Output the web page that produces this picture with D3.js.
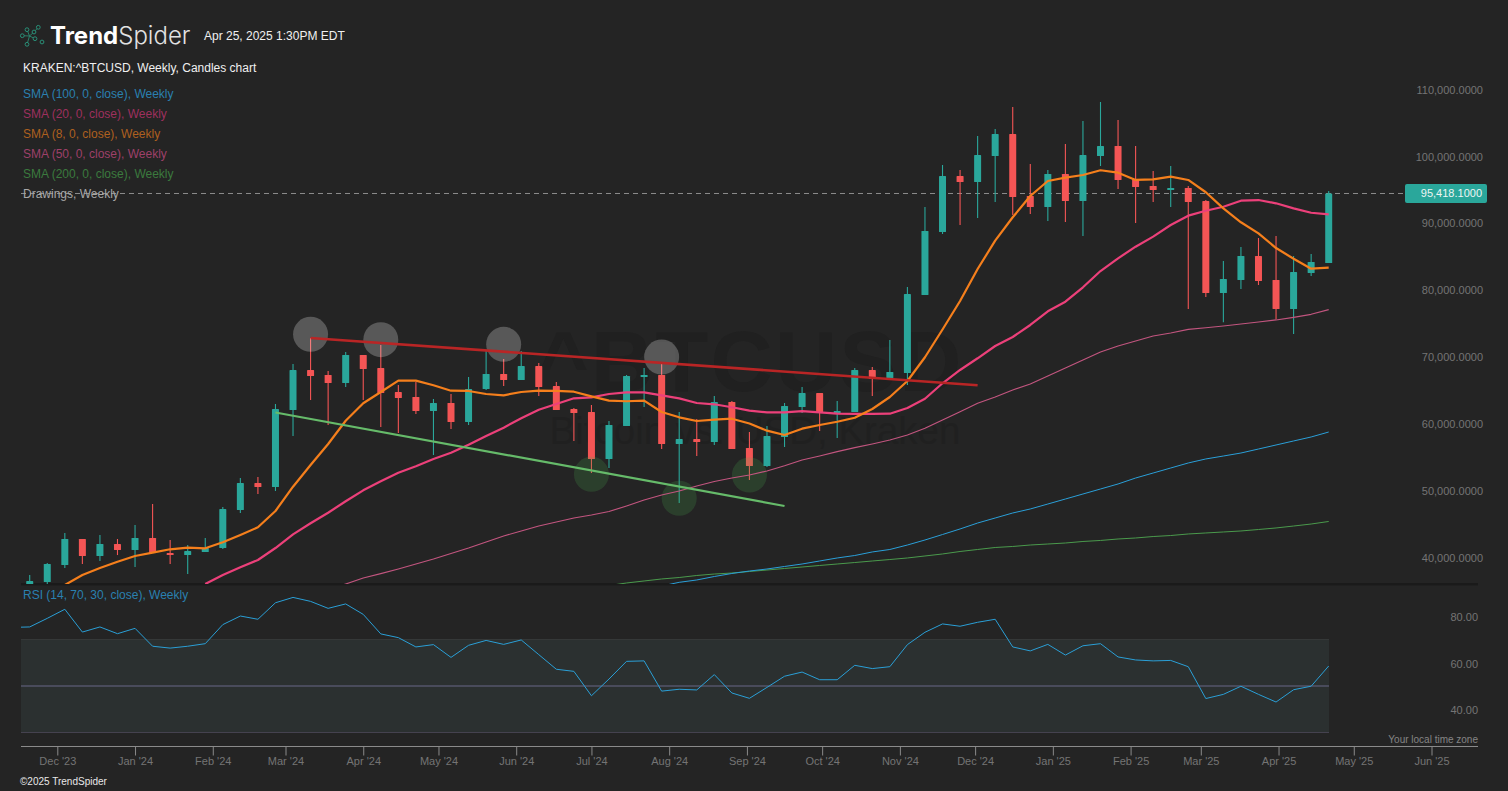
<!DOCTYPE html>
<html>
<head>
<meta charset="utf-8">
<script src="https://cdn.jsdelivr.net/npm/d3@7"></script>
<style>
  html, body { margin: 0; padding: 0; background: #242424; overflow: hidden; }
  svg { display: block; font-family: "Liberation Sans", Arial, sans-serif; }
</style>
</head>
<body>
<svg id="chart" width="1508" height="791"></svg>
<script>
//Weekly bars, first one on the Monday below
var firstWeek = new Date(Date.UTC(2023, 10, 20));

var opens = [36710,37310,39850,43740,41190,42990,42090,43890,41640,41340,41790,42390,48070,52110,51510,63030,69010,68270,67070,71260,69310,65720,64980,62880,64080,61240,66170,68420,67520,69610,66620,63180,62730,55700,60640,67970,68270,57950,58690,58250,64230,57350,54660,58990,63480,65570,62580,62730,69010,67820,68570,80230,89660,98030,97130,101020,104310,95040,93390,98330,94290,101020,102520,97580,96540,95940,96240,94290,80530,82480,86070,82480,78140,83520,85020];
var highs = [38350,40150,44630,43740,44340,43740,45830,48970,43590,42840,43890,48520,52860,53010,63930,69910,73800,68870,71710,71260,72750,66770,67220,64680,65430,67970,72010,70660,71860,70060,67220,63330,63780,61390,68270,69310,70060,62730,61690,65130,64380,59740,60640,64080,66470,65570,64380,69310,69460,73500,81430,93390,99680,98930,104010,105060,108350,99830,98930,102820,106260,109100,106410,102520,98780,99530,96540,94440,85320,87410,88760,89060,86070,86370,95790];
var lows = [36110,37010,39400,40000,40450,41340,39550,41640,40000,38500,41790,42240,47630,50470,50920,59140,64530,60790,66470,64530,60490,59590,62430,56300,60190,60790,66020,66620,67520,65130,63030,58390,53610,54360,60640,63480,57200,49120,56150,57800,57200,52560,54510,57500,62580,59890,58840,62730,65130,67820,66770,80230,89360,90700,91750,94140,92200,92350,91300,91150,89060,99530,96090,91000,94140,93390,78140,79930,76170,81130,81730,76620,74410,83070,85020];
var closes = [37450,40000,43740,41190,42990,42090,43890,41640,41340,41940,42390,48220,52110,51510,63180,69010,68120,67070,71260,69160,65570,64830,62880,64080,61240,66170,68420,67520,69610,66470,63030,62580,55700,60790,68120,68270,57950,58690,58250,64230,57200,54660,59140,63630,65570,62730,62880,69010,67670,68720,80380,89810,98030,97130,101170,104310,94890,93390,98330,94290,101170,102520,97430,96390,95940,96240,94140,80530,82630,86070,82330,78140,83670,85170,95418];

//Moving averages, each one starts at the bar index named next to it
var sma8Start = 2;
var sma8 = [36860,38360,39400,40340,41200,41690,42200,42440,42350,43250,44340,45490,47930,51560,54810,57950,61430,64040,65730,67420,67420,66730,65920,65880,65430,65230,65730,65920,65880,65770,65080,64430,64340,64430,62740,61940,61390,61580,61730,61020,59940,59300,60240,60790,61280,61880,63180,64980,67370,70920,75070,79340,84120,88360,91860,95040,97290,97780,98180,98890,98530,97440,97540,97930,97440,95600,93200,91110,89460,87260,85660,84170,84320];
var sma20Start = 10;
var sma20 = [37010,38360,39510,40600,42390,44440,46090,47670,49380,51020,52380,53660,54610,55710,56650,57840,59150,60390,61790,63080,63930,64780,64930,65430,65680,65680,65230,64780,64080,63890,63440,62930,62690,62690,62880,62690,62480,62440,62440,62480,63330,64720,67030,69020,70770,72610,73950,75750,77800,79230,81390,83820,85720,87460,88960,90700,92100,92840,93440,94340,94440,93950,93200,92540,92300];
var sma50Start = 17;
var sma50 = [36110,37010,37910,38550,39250,40000,40750,41570,42390,43290,44190,44940,45680,46280,46880,47330,47850,48680,49570,50320,50920,51670,52340,52860,53310,53910,54700,55560,56150,56800,57400,57950,58550,59300,60300,61540,62780,64040,64980,66030,66920,68120,69320,70510,71710,72610,73350,74100,74550,75090,75340,75600,75900,76200,76500,76900,77350,78040];
var sma100Start = 36;
var sma100 = [36710,37260,37610,38130,38580,38950,39250,39630,40000,40450,40900,41270,41800,42170,42840,43590,44410,45240,46130,46880,47630,48230,48970,49720,50470,51220,51970,52860,53610,54360,55110,55710,56150,56600,57200,57800,58400,59000,59740];
var sma200Start = 33;
var sma200 = [36780,37160,37460,37760,37980,38280,38500,38650,38880,39100,39330,39550,39780,40000,40220,40450,40670,40900,41200,41500,41870,42170,42470,42620,42840,42990,43140,43370,43520,43740,43890,44110,44260,44490,44640,44790,44940,45160,45390,45680,45980,46360];

//RSI has one extra week in front, it runs in from the left edge
var rsiValues = [75.2,75.4,79.1,83.0,73.2,75.4,72.5,74.8,67.1,66.3,67.1,68.2,76.4,80.1,78.7,85.8,88.1,86.4,83.4,85.3,80.8,72.4,70.8,66.8,67.8,62.3,67.5,69.6,67.9,69.8,63.5,57.2,56.3,45.8,53.0,60.6,60.8,47.8,48.6,48.3,54.9,47.0,44.7,49.4,54.2,56.0,52.7,52.7,58.9,57.5,58.3,67.8,73.1,76.7,75.7,77.4,78.7,66.8,65.1,67.9,63.3,67.3,68.2,62.5,61.2,60.8,61.0,58.3,44.6,46.4,49.9,46.4,43.1,48.4,49.9,58.6];

var lastPrice = 95418.10;
var priceTicks = [40000,50000,60000,70000,80000,90000,100000,110000];
var rsiTicks = [40,60,80];
var rsiBands = [30,50,70];

//Drawings: [bar index, price]
var resistance = [[16,73800],[54,66730]];
var support = [[14,62660],[43,48680]];
var topCircles = [[16,74360],[20,73550],[27,72860],[36,70960]];
var bottomCircles = [[32,53420],[37,49830],[41,53310]];

var legendNames = ["SMA (100, 0, close), Weekly","SMA (20, 0, close), Weekly","SMA (8, 0, close), Weekly","SMA (50, 0, close), Weekly","SMA (200, 0, close), Weekly","Drawings, Weekly"];
var legendColors = ["#2a80b0","#9e305e","#ae601f","#9e4069","#3b7a3e","#a8a8a8"];
var logoNodes = [[2.3,10.7],[7,4.7],[14,7],[18.3,2.3],[15,13.7],[22,17],[7,19.3]];

var GREEN = "#2aa79b", RED = "#f45555";

var svg = d3.select("#chart");

//Scales
var x = d3.scaleUtc()
    .domain([new Date(Date.UTC(2023, 11, 1)), new Date(Date.UTC(2025, 3, 21))])
    .range([57.3, 1328.7]);
var y = d3.scaleLinear().domain([40000, 110000]).range([564, 96]);
var yRsi = d3.scaleLinear().domain([30, 70]).range([732.5, 639.5]);

function week(i) { return d3.utcDay.offset(firstWeek, i * 7); }

//Clip for the price pane and the RSI pane
var defs = svg.append("defs");
defs.append("clipPath").attr("id", "priceClip").append("rect")
    .attr("x", 21).attr("y", 0).attr("width", 1457).attr("height", 584);
defs.append("clipPath").attr("id", "rsiClip").append("rect")
    .attr("x", 21).attr("y", 586).attr("width", 1457).attr("height", 158);

//Watermark
var mark = svg.append("g").attr("fill", "#202020");
mark.append("text").attr("x", 751).attr("y", 391).attr("text-anchor", "middle")
    .attr("font-size", 86).attr("font-weight", "bold").attr("letter-spacing", 2.4)
    .text("^BTCUSD");
mark.append("text").attr("x", 755).attr("y", 444).attr("text-anchor", "middle")
    .attr("font-size", 38.5).text("Bitcoin vs. USD, Kraken");

//Pane divider
svg.append("rect").attr("x", 21).attr("y", 583).attr("width", 1457).attr("height", 2.5)
    .attr("fill", "#1a1a1a");

var price = svg.append("g").attr("clip-path", "url(#priceClip)");

//Last price line
price.append("line")
    .attr("x1", 21).attr("x2", 1405)
    .attr("y1", y(lastPrice)).attr("y2", y(lastPrice))
    .attr("stroke", "#8c8c8c").attr("stroke-width", 1).attr("stroke-dasharray", "5,4");

//Candles
var candle = price.selectAll(".candle")
    .data(opens.map(function(o, i) { return {i: i, o: o, h: highs[i], l: lows[i], c: closes[i]}; }))
    .enter().append("g")
    .attr("class", "candle")
    .attr("fill", function(d) { return d.c >= d.o ? GREEN : RED; })
    .attr("stroke", function(d) { return d.c >= d.o ? GREEN : RED; });
candle.append("line")
    .attr("x1", function(d) { return x(week(d.i)); })
    .attr("x2", function(d) { return x(week(d.i)); })
    .attr("y1", function(d) { return y(d.h); })
    .attr("y2", function(d) { return y(d.l); })
    .attr("stroke-width", 1.1);
candle.append("rect")
    .attr("x", function(d) { return x(week(d.i)) - 3.5; })
    .attr("width", 7)
    .attr("y", function(d) { return y(Math.max(d.o, d.c)); })
    .attr("height", function(d) { return Math.max(1.5, Math.abs(y(d.o) - y(d.c))); })
    .attr("stroke", "none")
    .attr("rx", 0.6);

//Circles over the swing highs and lows
function circles(data, fill) {
    price.selectAll(null)
        .data(data)
        .enter().append("circle")
        .attr("cx", function(d) { return x(week(d[0])); })
        .attr("cy", function(d) { return y(d[1]); })
        .attr("r", 17.5)
        .attr("fill", fill);
}
circles(topCircles, "rgba(255,255,255,0.24)");
circles(bottomCircles, "rgba(76,175,80,0.2)");

//Moving averages and trend lines share one path builder
var priceLine = d3.line()
    .x(function(d) { return x(week(d[0])); })
    .y(function(d) { return y(d[1]); });

function drawLine(points, color, width) {
    price.append("path")
        .datum(points)
        .attr("d", priceLine)
        .attr("fill", "none")
        .attr("stroke", color)
        .attr("stroke-width", width)
        .attr("stroke-linejoin", "round");
}
function sma(values, start, color, width) {
    drawLine(values.map(function(v, i) { return [start + i, v]; }), color, width);
}
sma(sma200, sma200Start, "#4a9a4c", 1);
sma(sma100, sma100Start, "#2a9fd8", 1);
sma(sma50, sma50Start, "#c2557f", 1.2);
sma(sma20, sma20Start, "#ec407a", 2.2);
sma(sma8, sma8Start, "#f57f1c", 2.2);

drawLine(support, "#66bb6a", 2.2);
drawLine(resistance, "#b92525", 2.6);

//RSI pane
var rsi = svg.append("g").attr("clip-path", "url(#rsiClip)");
rsi.append("rect")
    .attr("x", 21).attr("width", 1308)
    .attr("y", yRsi(70)).attr("height", yRsi(30) - yRsi(70))
    .attr("fill", "#2b3030");
rsi.selectAll(".band")
    .data(rsiBands)
    .enter().append("line")
    .attr("class", "band")
    .attr("x1", 21).attr("x2", 1329)
    .attr("y1", yRsi).attr("y2", yRsi)
    .attr("stroke", function(d) { return d == 50 ? "#55556a" : d == 70 ? "#353838" : "#45424f"; })
    .attr("stroke-width", function(d) { return d == 50 ? 1.5 : 1; });
rsi.append("path")
    .datum(rsiValues)
    .attr("d", d3.line()
        .x(function(d, i) { return x(week(i - 1)); })
        .y(function(d) { return yRsi(d); }))
    .attr("fill", "none")
    .attr("stroke", "#2a9fd6")
    .attr("stroke-width", 1);

//Axes
var priceAxis = svg.append("g")
    .attr("transform", "translate(1483,-6.3)")
    .call(d3.axisLeft(y).tickValues(priceTicks).tickSize(0).tickPadding(0)
        .tickFormat(d3.format(",.4f")));
var rsiAxis = svg.append("g")
    .attr("transform", "translate(1478,1)")
    .call(d3.axisLeft(yRsi).tickValues(rsiTicks).tickSize(0).tickPadding(0)
        .tickFormat(d3.format(".2f")));
var timeAxis = svg.append("g")
    .attr("transform", "translate(0,746.5)")
    .call(d3.axisBottom(x)
        .tickValues(d3.utcMonth.range(new Date(Date.UTC(2023, 11, 1)), new Date(Date.UTC(2025, 6, 1))))
        .tickSize(9).tickPadding(2)
        .tickFormat(d3.utcFormat("%b '%y")));
[priceAxis, rsiAxis, timeAxis].forEach(function(a) {
    a.select(".domain").remove();
    a.selectAll("text").attr("fill", "#747474").attr("font-size", 11)
        .attr("font-family", '"Liberation Sans", Arial, sans-serif');
    a.selectAll("line").attr("stroke", "#8a8a8a");
});
svg.append("line").attr("x1", 21).attr("x2", 1478).attr("y1", 746.5).attr("y2", 746.5)
    .attr("stroke", "#8a8a8a");

//Last price tag
svg.append("rect")
    .attr("x", 1405).attr("y", y(lastPrice) - 9.5)
    .attr("width", 82).attr("height", 19).attr("rx", 2)
    .attr("fill", GREEN);
svg.append("text")
    .attr("x", 1482).attr("y", y(lastPrice) + 4)
    .attr("text-anchor", "end").attr("font-size", 11).attr("fill", "#eef5f4")
    .text(d3.format(",.4f")(lastPrice));

//Legend
svg.append("text").attr("x", 23).attr("y", 72)
    .attr("font-size", 12).attr("fill", "#f0f0f0")
    .text("KRAKEN:^BTCUSD, Weekly, Candles chart");
svg.selectAll(".legend")
    .data(legendNames)
    .enter().append("text")
    .attr("class", "legend")
    .attr("x", 23)
    .attr("y", function(d, i) { return 98 + i * 20; })
    .attr("font-size", 12)
    .attr("fill", function(d, i) { return legendColors[i]; })
    .text(function(d) { return d; });
svg.append("text").attr("x", 23).attr("y", 599)
    .attr("font-size", 12).attr("fill", "#2a80b0")
    .text("RSI (14, 70, 30, close), Weekly");

//Footer notes
svg.append("text").attr("x", 1478).attr("y", 743)
    .attr("text-anchor", "end").attr("font-size", 10).attr("fill", "#848484")
    .text("Your local time zone");
svg.append("text").attr("x", 20).attr("y", 785)
    .attr("font-size", 10).attr("fill", "#e8e8e8")
    .text("©2025 TrendSpider");

//Header
var logo = svg.append("g").attr("transform", "translate(20,25)");
logo.append("path")
    .attr("d", "M7,4.7L9.5,11L7,19.3M2.3,10.7L9.5,11M14,7L9.5,11L15,13.7M14,7L18.3,2.3")
    .attr("fill", "none").attr("stroke", "#2a8a70").attr("stroke-width", 0.9);
logo.selectAll("circle")
    .data(logoNodes)
    .enter().append("circle")
    .attr("cx", function(d) { return d[0]; })
    .attr("cy", function(d) { return d[1]; })
    .attr("r", 1.9)
    .attr("fill", "#242424")
    .attr("stroke", "#2a9078")
    .attr("stroke-width", 1);
var brand = svg.append("text").attr("x", 50).attr("y", 43.5)
    .attr("font-family", 'Inter, Lato, sans-serif').attr("font-size", 24).attr("fill", "#ffffff");
brand.append("tspan").attr("font-weight", 700).text("Trend");
brand.append("tspan").attr("font-weight", 300).attr("fill", "#e2e2e2").text("Spider");
svg.append("text").attr("x", 204).attr("y", 40)
    .attr("font-size", 12).attr("fill", "#f0f0f0")
    .text("Apr 25, 2025 1:30PM EDT");
</script>
</body>
</html>
